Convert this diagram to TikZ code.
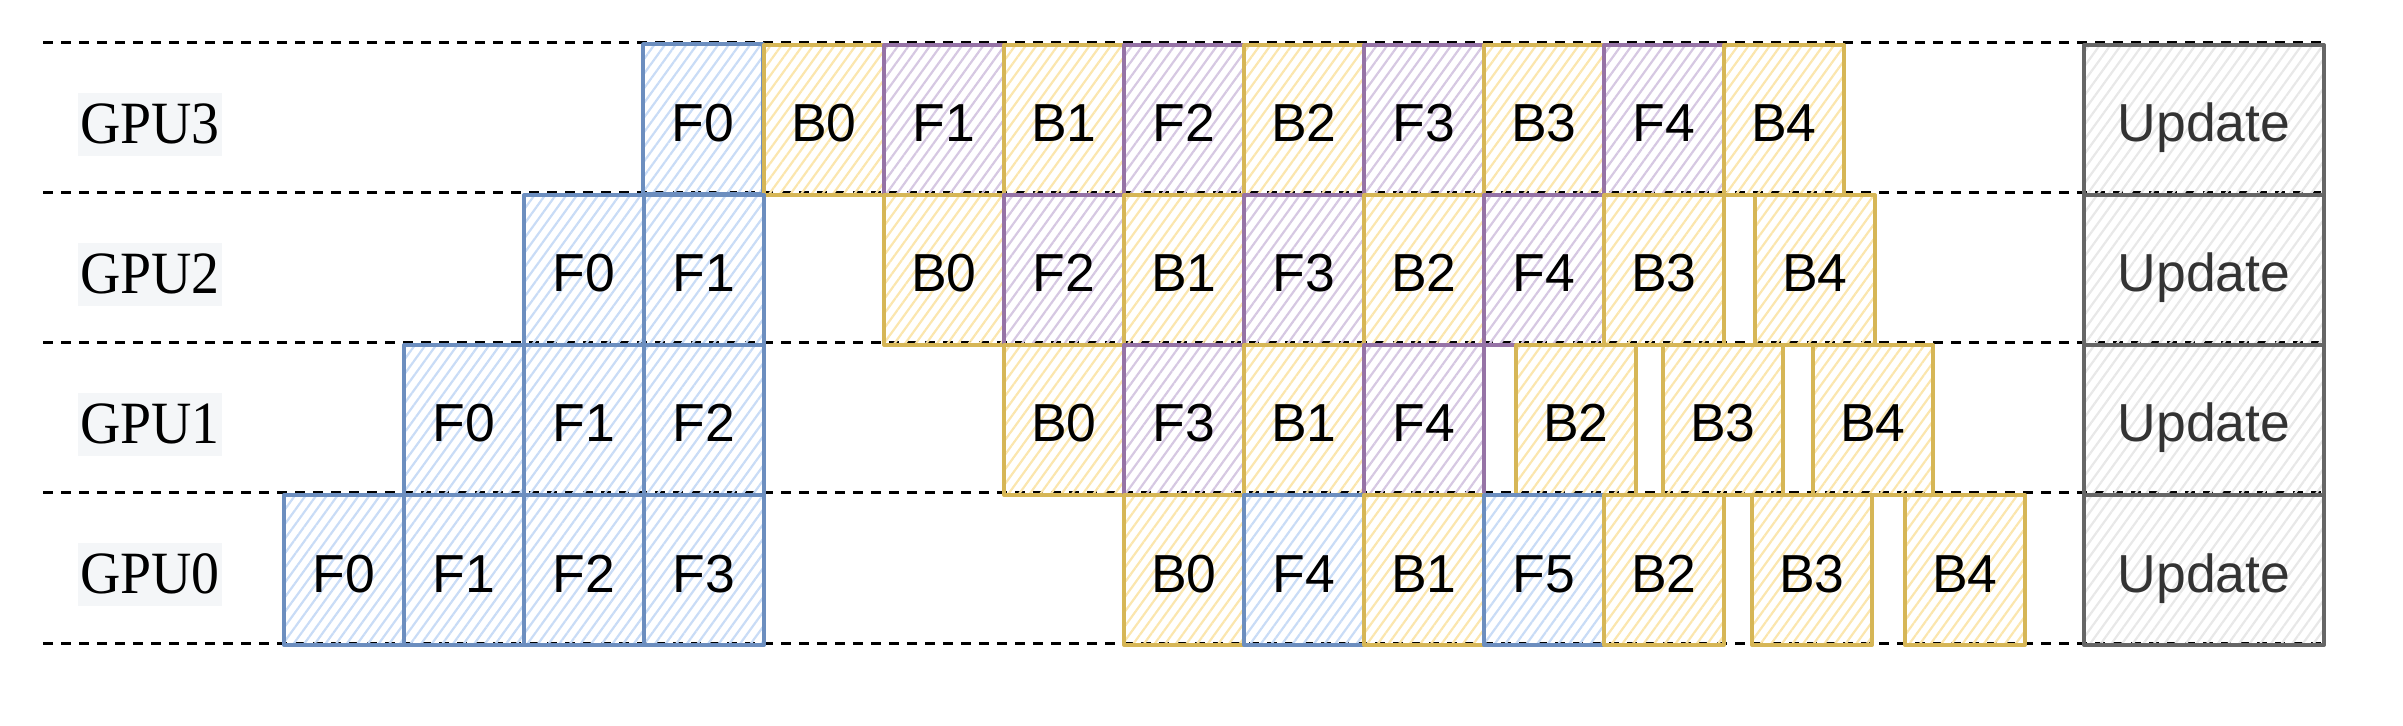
\documentclass[tikz,border=0pt]{standalone}
\usepackage{fontspec}
\setmainfont{Liberation Serif}
\newfontfamily\boxfont{Liberation Sans}
\usetikzlibrary{patterns.meta}
\definecolor{bluestroke}{HTML}{6C8EBF}
\definecolor{bluehatch}{HTML}{C9DCF6}
\definecolor{yelstroke}{HTML}{D6B656}
\definecolor{yelhatch}{HTML}{FBE6AE}
\definecolor{purstroke}{HTML}{9673A6}
\definecolor{purhatch}{HTML}{D6C8E2}
\definecolor{graystroke}{HTML}{666666}
\definecolor{grayhatch}{HTML}{E8E8E8}
\definecolor{updtext}{HTML}{333333}
\definecolor{labelbg}{HTML}{F4F6F8}
\tikzset{
  cell/.style={rectangle, inner sep=0pt, minimum width=60pt, minimum height=75pt,
    line width=2pt, line join=round, anchor=north west,
    font=\boxfont\fontsize{26.75pt}{30pt}\selectfont, text height=25pt, text depth=3pt},
  hatch/.style={pattern={Lines[angle=54,distance=4.3pt,line width=1.1pt]}, pattern color=#1},
  fwd/.style={cell, draw=bluestroke, hatch=bluehatch},
  fpur/.style={cell, draw=purstroke, hatch=purhatch},
  bwd/.style={cell, draw=yelstroke, hatch=yelhatch},
  upd/.style={cell, minimum width=120pt, draw=graystroke, hatch=grayhatch, text=updtext},
  gpulabel/.style={rectangle, fill=labelbg, inner sep=0pt, minimum width=72pt,
    text height=25.5pt, text depth=6pt, font=\fontsize{30pt}{34pt}\selectfont},
  rowline/.style={line width=1.5pt, dash pattern=on 5pt off 4pt}
}
\begin{document}
\begin{tikzpicture}[x=0.5pt, y=-0.5pt]
\useasboundingbox (0,0) rectangle (2403,726);
% row separators
\foreach \i/\yy in {0/43,1/193,2/343,3/493,4/643}{
  \coordinate (la\i) at (43,\yy);
  \coordinate (lb\i) at (2322,\yy);
  \draw[rowline] (la\i) -- (lb\i);
}
% GPU labels
\node[gpulabel] (lab3) at (150,124.5) {\scalebox{0.93}[1]{GPU3}};
\node[gpulabel] (lab2) at (150,274.5) {\scalebox{0.93}[1]{GPU2}};
\node[gpulabel] (lab1) at (150,424.5) {\scalebox{0.93}[1]{GPU1}};
\node[gpulabel] (lab0) at (150,574.5) {\scalebox{0.93}[1]{GPU0}};
% GPU3
\node[fwd]  (g3f0) at (642,43)  {F0};
\node[bwd]  (g3b0) at (762,43)  {B0};
\node[fpur] (g3f1) at (882,43)  {F1};
\node[bwd]  (g3b1) at (1002,43) {B1};
\node[fpur] (g3f2) at (1122,43) {F2};
\node[bwd]  (g3b2) at (1242,43) {B2};
\node[fpur] (g3f3) at (1362,43) {F3};
\node[bwd]  (g3b3) at (1482,43) {B3};
\node[fpur] (g3f4) at (1602,43) {F4};
\node[bwd]  (g3b4) at (1722,43) {B4};
\node[upd]  (g3u)  at (2082,43) {Update};
% GPU2
\node[fwd]  (g2f0) at (522,193)  {F0};
\node[fwd]  (g2f1) at (642,193)  {F1};
\node[bwd]  (g2b0) at (882,193)  {B0};
\node[fpur] (g2f2) at (1002,193) {F2};
\node[bwd]  (g2b1) at (1122,193) {B1};
\node[fpur] (g2f3) at (1242,193) {F3};
\node[bwd]  (g2b2) at (1362,193) {B2};
\node[fpur] (g2f4) at (1482,193) {F4};
\node[bwd]  (g2b3) at (1602,193) {B3};
\node[bwd]  (g2b4) at (1753,193) {B4};
\node[upd]  (g2u)  at (2082,193) {Update};
% GPU1
\node[fwd]  (g1f0) at (402,343)  {F0};
\node[fwd]  (g1f1) at (522,343)  {F1};
\node[fwd]  (g1f2) at (642,343)  {F2};
\node[bwd]  (g1b0) at (1002,343) {B0};
\node[fpur] (g1f3) at (1122,343) {F3};
\node[bwd]  (g1b1) at (1242,343) {B1};
\node[fpur] (g1f4) at (1362,343) {F4};
\node[bwd]  (g1b2) at (1514,343) {B2};
\node[bwd]  (g1b3) at (1661,343) {B3};
\node[bwd]  (g1b4) at (1811,343) {B4};
\node[upd]  (g1u)  at (2082,343) {Update};
% GPU0
\node[fwd]  (g0f0) at (282,493)  {F0};
\node[fwd]  (g0f1) at (402,493)  {F1};
\node[fwd]  (g0f2) at (522,493)  {F2};
\node[fwd]  (g0f3) at (642,493)  {F3};
\node[bwd]  (g0b0) at (1122,493) {B0};
\node[fwd]  (g0f4) at (1242,493) {F4};
\node[bwd]  (g0b1) at (1362,493) {B1};
\node[fwd]  (g0f5) at (1482,493) {F5};
\node[bwd]  (g0b2) at (1602,493) {B2};
\node[bwd]  (g0b3) at (1750,493) {B3};
\node[bwd]  (g0b4) at (1903,493) {B4};
\node[upd]  (g0u)  at (2082,493) {Update};
\end{tikzpicture}
\end{document}
